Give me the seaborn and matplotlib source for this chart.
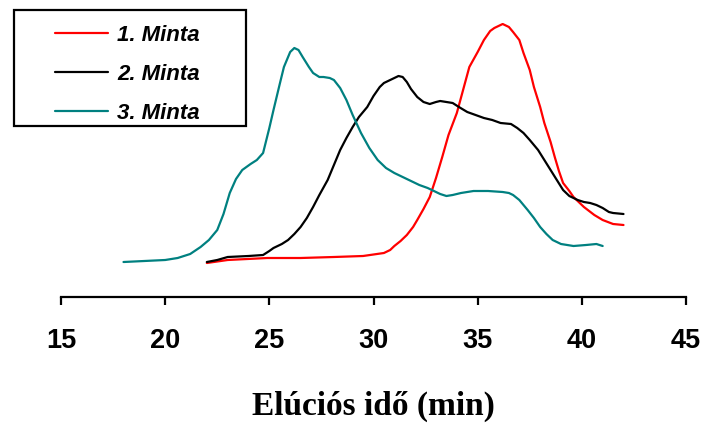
import numpy as np
import pandas as pd
import matplotlib
matplotlib.use("Agg")
import matplotlib.pyplot as plt
from matplotlib.patches import Rectangle
import seaborn as sns

# Elution profiles: retention time (min) and detector signal (arbitrary units)
t1 = [22.0, 23.0, 24.9, 26.5, 28.1, 29.5, 30.5, 30.8, 31.0, 31.3,
      31.6, 31.9, 32.1, 32.4, 32.7, 33.0, 33.3, 33.6, 34.0, 34.3,
      34.6, 35.0, 35.3, 35.6, 35.8, 36.2, 36.5, 36.7, 37.0, 37.2,
      37.5, 37.7, 38.0, 38.2, 38.5, 38.7, 38.9, 39.1, 39.4, 39.6,
      40.1, 40.6, 41.0, 41.5, 42.0]
s1 = [34, 37, 39, 39, 40, 41, 44, 47, 51, 56,
      62, 70, 77, 88, 100, 119, 140, 162, 184, 207,
      230, 245, 257, 266, 269, 273, 270, 265, 257, 244,
      227, 210, 190, 174, 155, 140, 126, 114, 106, 100,
      90, 82, 77, 73, 72]

t2 = [22.0, 22.5, 23.0, 24.0, 24.7, 25.0, 25.2, 25.6, 25.9, 26.2,
      26.5, 26.8, 27.1, 27.4, 27.8, 28.1, 28.4, 28.7, 29.0, 29.3,
      29.7, 30.0, 30.3, 30.5, 30.8, 31.2, 31.4, 31.6, 31.8, 32.1,
      32.4, 32.7, 33.0, 33.2, 33.5, 33.8, 34.1, 34.5, 34.9, 35.3,
      35.7, 36.1, 36.6, 36.9, 37.2, 37.5, 37.9, 38.2, 38.5, 38.8,
      39.1, 39.4, 39.8, 40.1, 40.4, 40.7, 41.0, 41.3, 41.5, 42.0]
s2 = [35, 37, 40, 41, 42, 46, 49, 53, 57, 63,
      70, 79, 90, 102, 117, 132, 147, 159, 170, 180,
      190, 201, 210, 214, 217, 221, 220, 215, 208, 200,
      195, 193, 195, 196, 195, 194, 190, 185, 182, 179,
      177, 174, 173, 169, 164, 157, 147, 137, 127, 117,
      107, 101, 97, 95, 94, 92, 89, 85, 84, 83]

t3 = [18.0, 19.0, 20.0, 20.6, 21.2, 21.7, 22.1, 22.5, 22.8, 23.1,
      23.4, 23.7, 24.1, 24.4, 24.7, 25.0, 25.2, 25.5, 25.7, 26.0,
      26.2, 26.4, 26.6, 26.9, 27.1, 27.4, 27.6, 27.9, 28.1, 28.4,
      28.7, 29.0, 29.4, 29.8, 30.2, 30.6, 31.0, 31.5, 31.9, 32.2,
      32.6, 32.9, 33.2, 33.5, 33.8, 34.2, 34.8, 35.5, 36.2, 36.5,
      36.7, 37.0, 37.4, 37.7, 38.0, 38.3, 38.6, 39.0, 39.6, 40.2,
      40.7, 41.0]
s3 = [35, 36, 37, 39, 43, 50, 57, 67, 83, 104,
      118, 127, 133, 137, 144, 169, 187, 213, 230, 245,
      249, 247, 240, 230, 224, 220, 220, 219, 217, 209,
      197, 182, 164, 149, 137, 129, 124, 119, 115, 112,
      109, 106, 103, 101, 102, 104, 106, 106, 105, 104,
      102, 97, 87, 79, 70, 63, 57, 53, 51, 52,
      53, 51]

labels = ["1. Minta", "2. Minta", "3. Minta"]
colors = ["#ff0000", "#000000", "#008080"]
xticks = [15, 20, 25, 30, 35, 40, 45]

df = pd.concat([
    pd.DataFrame({"t": t1, "s": s1, "minta": labels[0]}),
    pd.DataFrame({"t": t2, "s": s2, "minta": labels[1]}),
    pd.DataFrame({"t": t3, "s": s3, "minta": labels[2]}),
], ignore_index=True)

sns.set_theme(style="white")
plt.rcParams["font.family"] = ["Liberation Sans", "DejaVu Sans"]
plt.rcParams["text.color"] = "black"
plt.rcParams["axes.labelcolor"] = "black"
plt.rcParams["xtick.color"] = "black"
plt.rcParams["xtick.labelcolor"] = "black"

fig = plt.figure(figsize=(7.04, 4.25), dpi=100)
ax = fig.add_axes([61 / 704, (425 - 297) / 425, 625 / 704, 297 / 425])
ax.patch.set_alpha(0)

sns.lineplot(data=df, x="t", y="s", hue="minta", hue_order=labels,
             palette=dict(zip(labels, colors)), linewidth=1.6,
             sort=False, estimator=None, ax=ax)

ax.set_xlim(15, 45)
ax.set_ylim(0, 297)
ax.set_xticks(xticks)
ax.set_xticklabels([str(v) for v in xticks], fontsize=19.5,
                   fontweight="bold", color="black")
ax.set_yticks([])
ax.set_ylabel("")
for side in ("left", "top", "right"):
    ax.spines[side].set_visible(False)
ax.spines["bottom"].set_color("black")
ax.spines["bottom"].set_linewidth(1.6)
ax.tick_params(axis="x", direction="out", length=6, width=1.6,
               color="black", pad=16, bottom=True)
ax.set_xlabel("Elúciós idő (min)", family=["Liberation Serif", "DejaVu Serif"],
              fontsize=24, fontweight="bold", color="black", labelpad=27)

handles, _ = ax.get_legend_handles_labels()
leg = ax.legend(handles, labels, loc="upper left",
                bbox_to_anchor=(55 / 704, 1 - 25 / 425),
                bbox_transform=fig.transFigure, frameon=False,
                borderpad=0, borderaxespad=0, handlelength=2.4,
                handletextpad=0.4, labelspacing=0.8,
                prop={"family": ["Liberation Sans", "DejaVu Sans"],
                      "weight": "bold", "style": "italic", "size": 16})
for line in leg.get_lines():
    line.set_linewidth(1.6)
for txt in leg.get_texts():
    txt.set_color("black")

fig.add_artist(Rectangle((14 / 704, 1 - 126 / 425), 232 / 704, 116 / 425,
                         transform=fig.transFigure, fill=False,
                         edgecolor="black", linewidth=1.6))

fig.savefig("out.png", dpi=100, facecolor="white")
